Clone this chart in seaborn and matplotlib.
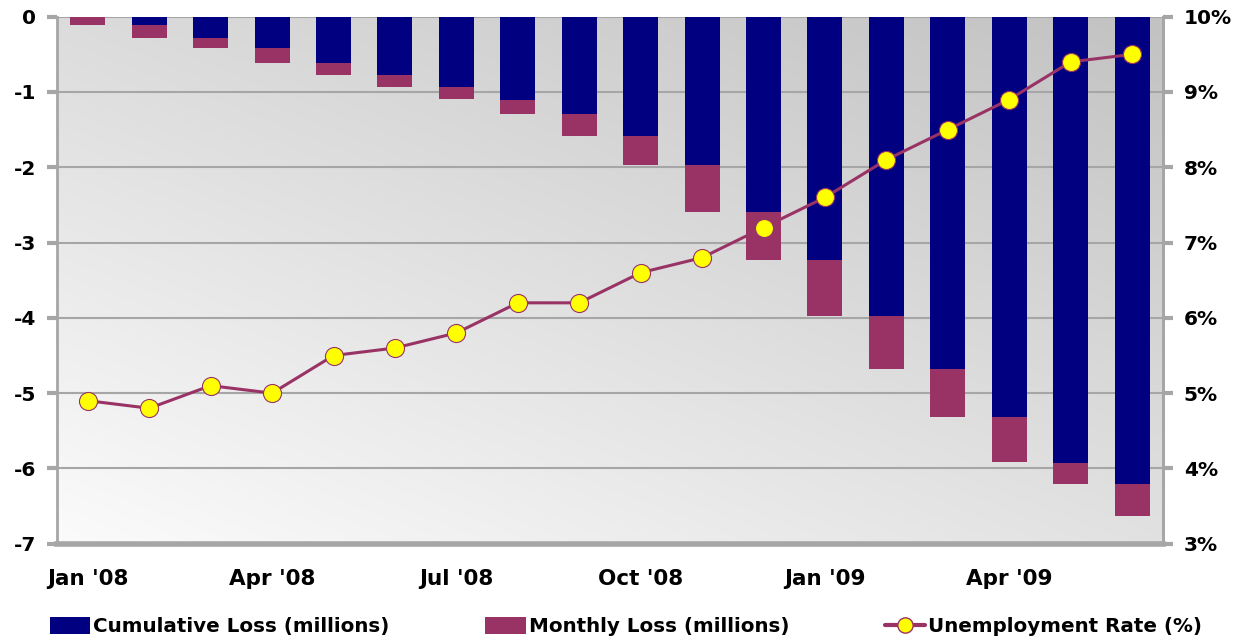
import numpy as np
import pandas as pd
import matplotlib
matplotlib.use("Agg")
import matplotlib.pyplot as plt
from matplotlib.colors import LinearSegmentedColormap
from matplotlib.patches import Patch
from matplotlib.lines import Line2D
import seaborn as sns

# data
months = ["Jan '08", "Feb '08", "Mar '08", "Apr '08", "May '08", "Jun '08",
          "Jul '08", "Aug '08", "Sep '08", "Oct '08", "Nov '08", "Dec '08",
          "Jan '09", "Feb '09", "Mar '09", "Apr '09", "May '09", "Jun '09"]
cumulative_loss = [0.0, 0.11, 0.28, 0.42, 0.61, 0.78, 0.94, 1.10, 1.29, 1.59,
                   1.97, 2.59, 3.23, 3.98, 4.68, 5.32, 5.93, 6.21]
monthly_loss = [0.11, 0.17, 0.14, 0.19, 0.17, 0.16, 0.15, 0.19, 0.30, 0.38,
                0.62, 0.64, 0.75, 0.70, 0.63, 0.59, 0.27, 0.42]
unemployment = [4.9, 4.8, 5.1, 5.0, 5.5, 5.6, 5.8, 6.2, 6.2, 6.6, 6.8, 7.2,
                7.6, 8.1, 8.5, 8.9, 9.4, 9.5]
tick_labels = ["Jan '08", "Apr '08", "Jul '08", "Oct '08", "Jan '09", "Apr '09"]

NAVY = "#000080"
MAROON = "#993366"
GRID = "#a6a6a6"

sns.set_style("white")
plt.rcParams["font.family"] = ["DejaVu Sans"]
plt.rcParams["font.weight"] = "bold"
plt.rcParams["text.color"] = "black"
plt.rcParams["xtick.color"] = "black"
plt.rcParams["ytick.color"] = "black"

df = pd.DataFrame({
    "month": months,
    "cum": -np.array(cumulative_loss),
    "total": -(np.array(cumulative_loss) + np.array(monthly_loss)),
    "rate": unemployment,
})

fig = plt.figure(figsize=(12.41, 6.42), dpi=100)
ax = fig.add_axes([0.046, 0.153, 0.891, 0.821])

# diagonal grey gradient background
grad_cmap = LinearSegmentedColormap.from_list("bg", ["#fbfbfb", "#c2c2c2"])
gx, gy = np.meshgrid(np.linspace(0, 1, 200), np.linspace(0, 1, 200))
ax.imshow(0.45 * gx + 0.55 * gy, cmap=grad_cmap, origin="lower", aspect="auto",
          extent=[0, 1, 0, 1], transform=ax.transAxes, zorder=0)

sns.barplot(data=df, x="month", y="total", color=MAROON, width=0.57,
            saturation=1, linewidth=0, ax=ax, zorder=3)
sns.barplot(data=df, x="month", y="cum", color=NAVY, width=0.57,
            saturation=1, linewidth=0, ax=ax, zorder=3)

ax.set_ylim(-7, 0)
ax.set_xlim(-0.5, len(months) - 0.5)
ax.set_yticks(range(-7, 1))
ax.set_yticklabels([str(v) for v in range(-7, 1)], fontsize=14.5, fontweight="bold")
ax.yaxis.grid(True, color=GRID, linewidth=1.5, zorder=1)
ax.set_axisbelow(True)

tick_pos = [months.index(t) for t in tick_labels]
ax.set_xticks(tick_pos)
ax.set_xticklabels(tick_labels, fontsize=15.5, fontweight="bold")
ax.tick_params(axis="x", length=0, pad=18, labelcolor="black")
ax.tick_params(axis="y", length=7, width=3, color=GRID, pad=8, labelcolor="black")
ax.set_xlabel("")
ax.set_ylabel("")
ax.spines["top"].set_visible(False)
ax.spines["left"].set_color(GRID)
ax.spines["left"].set_linewidth(2)
ax.spines["bottom"].set_color(GRID)
ax.spines["bottom"].set_linewidth(4)
ax.spines["right"].set_color(GRID)
ax.spines["right"].set_linewidth(2)

ax2 = ax.twinx()
sns.lineplot(x=np.arange(len(months)), y=df["rate"], ax=ax2, color=MAROON,
             linewidth=2.2, marker="o", markersize=13, markerfacecolor="#ffff00",
             markeredgecolor=MAROON, markeredgewidth=0.8, zorder=5)
ax2.set_ylim(3, 10)
ax2.set_yticks(range(3, 11))
ax2.set_yticklabels([f"{v}%" for v in range(3, 11)], fontsize=14.5, fontweight="bold")
ax2.tick_params(axis="y", length=7, width=3, color=GRID, pad=8, labelcolor="black")
ax2.set_ylabel("")
for side in ["top", "left", "bottom"]:
    ax2.spines[side].set_visible(False)
ax2.spines["right"].set_color(GRID)
ax2.spines["right"].set_linewidth(2)

handles = [
    Patch(facecolor=NAVY, edgecolor="none", label="Cumulative Loss (millions)"),
    Patch(facecolor=MAROON, edgecolor="none", label="Monthly Loss (millions)"),
    Line2D([0], [0], color=MAROON, linewidth=3, marker="o", markersize=11,
           markerfacecolor="#ffff00", markeredgecolor=MAROON,
           label="Unemployment Rate (%)"),
]
fig.legend(handles=handles, loc="center left", ncol=3,
           bbox_to_anchor=(0.040, 0.024), frameon=False,
           prop={"size": 14.3, "weight": "bold"}, handlelength=2.05,
           handleheight=0.9, handletextpad=0.15, columnspacing=4.8,
           borderpad=0, borderaxespad=0)

fig.savefig("out.png", dpi=100)
